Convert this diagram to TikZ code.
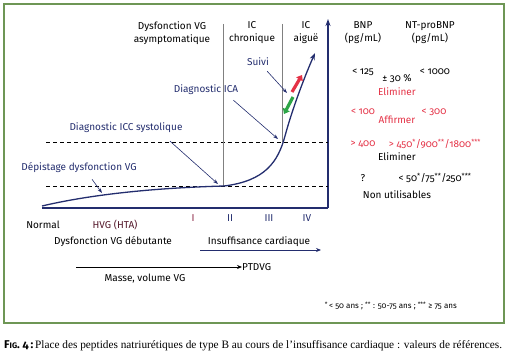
\documentclass[tikz,border=0pt]{standalone}
\usepackage{fontspec}
\setmainfont{Fira Sans}[Numbers=OldStyle]
\newfontfamily\capfont{Liberation Serif}
\usetikzlibrary{arrows.meta}
\definecolor{navy}{RGB}{35,45,110}
\definecolor{alertred}{RGB}{228,50,70}
\definecolor{okgreen}{RGB}{45,165,70}
\definecolor{framegreen}{RGB}{110,150,85}
\definecolor{stagered}{RGB}{140,40,70}
\begin{document}
\begin{tikzpicture}[x=1pt,y=-1pt,
	txt/.style={font=\fontsize{10}{13}\selectfont, inner sep=0pt, align=center},
	pointer/.style={navy, line width=0.6pt, -{Stealth[length=5pt,width=3.5pt]}},
	thresh/.style={black, line width=0.8pt, dash pattern=on 4pt off 3pt},
	stageline/.style={gray, line width=0.8pt},
	fatarrow/.style={line width=3.2pt, -{Triangle[length=5pt,width=7.5pt]}}]
			\useasboundingbox (0,0) rectangle (509,361);
			% Frame
			\draw[framegreen, line width=2pt] (4,4) rectangle (504,323);

			% Axes
			\coordinate (xleft) at (42,208);
			\coordinate (orig) at (328,208);
			\coordinate (ytop) at (328,19);
			\draw[navy, line width=1.3pt] (xleft) -- (orig);
			\draw[navy, line width=1.3pt, -{Stealth[length=7pt,width=5pt]}] (orig) -- (ytop);

			% Thresholds
			\coordinate (iccL) at (46,142);
			\coordinate (iccR) at (328,142);
			\coordinate (depL) at (46,186);
			\coordinate (depR) at (328,186);
			\draw[thresh] (iccL) -- (iccR);
			\draw[thresh] (depL) -- (depR);

			% Stages
			\draw[stageline] (223,24) -- (223,186);
			\draw[stageline] (282,24) -- (282,142);

			% Disease course
			\coordinate (c0) at (42,206);
			\coordinate (c1) at (224,186);
			\coordinate (c2) at (285,136);
			\coordinate (c3) at (315,53);
			\draw[navy, line width=1.3pt, -{Stealth[length=7pt,width=5pt]}] (c0) .. controls (110,190) and (190,187) .. (c1)
				.. controls (265,181) and (278,162) .. (c2) .. controls (292,110) and (304,78) .. (c3);

			% Column headers
			\node[txt] (hdrDysf) at (172,33) {Dysfonction VG\\asymptomatique};
			\node[txt] (hdrChr) at (252,33) {IC\\chronique};
			\node[txt] (hdrAig) at (306,33) {IC\\aiguë};
			\node[txt] (hdrBNP) at (363,33) {BNP\\(pg/mL)};
			\node[txt] (hdrNT) at (430,33) {NT-proBNP\\(pg/mL)};

			% Uses of the peptides
			\node[txt, navy] (lblSuivi) at (258,62) {Suivi};
			\node[txt, navy] (lblICA) at (206,90) {Diagnostic ICA};
			\node[txt, navy] (lblICC) at (126,128) {Diagnostic ICC systolique};
			\node[txt, navy] (lblDep) at (79,168) {Dépistage dysfonction VG};
			\coordinate (ptSuivi) at (287,93);
			\coordinate (ptICA) at (278,139);
			\coordinate (ptICC) at (218,184);
			\coordinate (ptDep) at (102,193);
			\draw[pointer] ([shift={(-2pt,-5pt)}]lblSuivi.south east) -- (ptSuivi);
			\draw[pointer] ([shift={(-5pt,-5pt)}]lblICA.south east) -- (ptICA);
			\draw[pointer] ([shift={(44pt,-8pt)}]lblICC.south) -- (ptICC);
			\draw[pointer] ([shift={(13pt,-6pt)}]lblDep.south) -- (ptDep);

			% Follow-up: rise and fall
			\coordinate (upA) at (292,92);
			\coordinate (upB) at (302,75);
			\coordinate (dnA) at (293,97);
			\coordinate (dnB) at (284,114);
			\draw[fatarrow, alertred] (upA) -- (upB);
			\draw[fatarrow, okgreen] (dnA) -- (dnB);

			% NYHA classes
			\node[txt, stagered] (nyhaI) at (193,218) {I};
			\node[txt, navy] (nyhaII) at (230,218) {II};
			\node[txt, navy] (nyhaIII) at (269,218) {III};
			\node[txt, navy] (nyhaIV) at (307,218) {IV};

			% Below the axis
			\node[txt] (lblNormal) at (43,225) {Normal};
			\node[txt, stagered!60!black] (lblHVG) at (115,225) {HVG (HTA)};
			\node[txt] (lblDebut) at (113,242) {Dysfonction VG débutante};
			\node[txt] (lblIC) at (259,242) {Insuffisance cardiaque};
			\coordinate (icL) at (200,250);
			\coordinate (icR) at (321,250);
			\draw[navy, line width=0.8pt, -{Stealth[length=5pt,width=4pt]}] (icL) -- (icR);
			\node[txt, anchor=west] (lblPTDVG) at (242,267) {PTDVG};
			\coordinate (massL) at (76,267);
			\draw[black, line width=0.8pt, -{Stealth[length=5pt,width=4pt]}] (massL) -- (lblPTDVG.west);
			\node[txt] (lblMasse) at (145,279) {Masse, volume VG};

			% Reference values
			\node[txt] (bnpA) at (363,72) {< 125};
			\node[txt] (pct) at (397,79) {± 30 \%};
			\node[txt] (ntA) at (435,72) {< 1000};
			\node[txt, alertred] (elimA) at (397,92) {Eliminer};
			\node[txt, alertred] (bnpB) at (363,112) {< 100};
			\node[txt, alertred] (affirm) at (397,120) {Affirmer};
			\node[txt, alertred] (ntB) at (434,112) {< 300};
			\node[txt, alertred] (bnpC) at (363,144) {> 400};
			\node[txt, alertred] (ntC) at (435,144) {> 450\textsuperscript{*}/900\textsuperscript{**}/1800\textsuperscript{***}};
			\node[txt] (elimB) at (397,157) {Eliminer};
			\node[txt] (bnpD) at (363,178) {?};
			\node[txt] (ntD) at (435,178) {< 50\textsuperscript{*}/75\textsuperscript{**}/250\textsuperscript{***}};
			\node[txt] (nonUtil) at (397,195) {Non utilisables};

			% Age groups
			\node[txt, font=\fontsize{8}{9}\selectfont, anchor=east] (ageNote) at (457,306) {\textsuperscript{*}\,< 50 ans ; \textsuperscript{**} : 50-75 ans ; \textsuperscript{***} ≥ 75 ans};

			% Caption
			\node[inner sep=0pt, anchor=west, font=\capfont\fontsize{11.3}{13}\selectfont] (caption) at (4,346)
				{{\rmfamily\bfseries F{\fontsize{8}{9}\selectfont IG}. 4\,:}\,Place des peptides natriurétiques de type B au cours de l’insuffisance cardiaque : valeurs de références.};
		\end{tikzpicture}
\end{document}
